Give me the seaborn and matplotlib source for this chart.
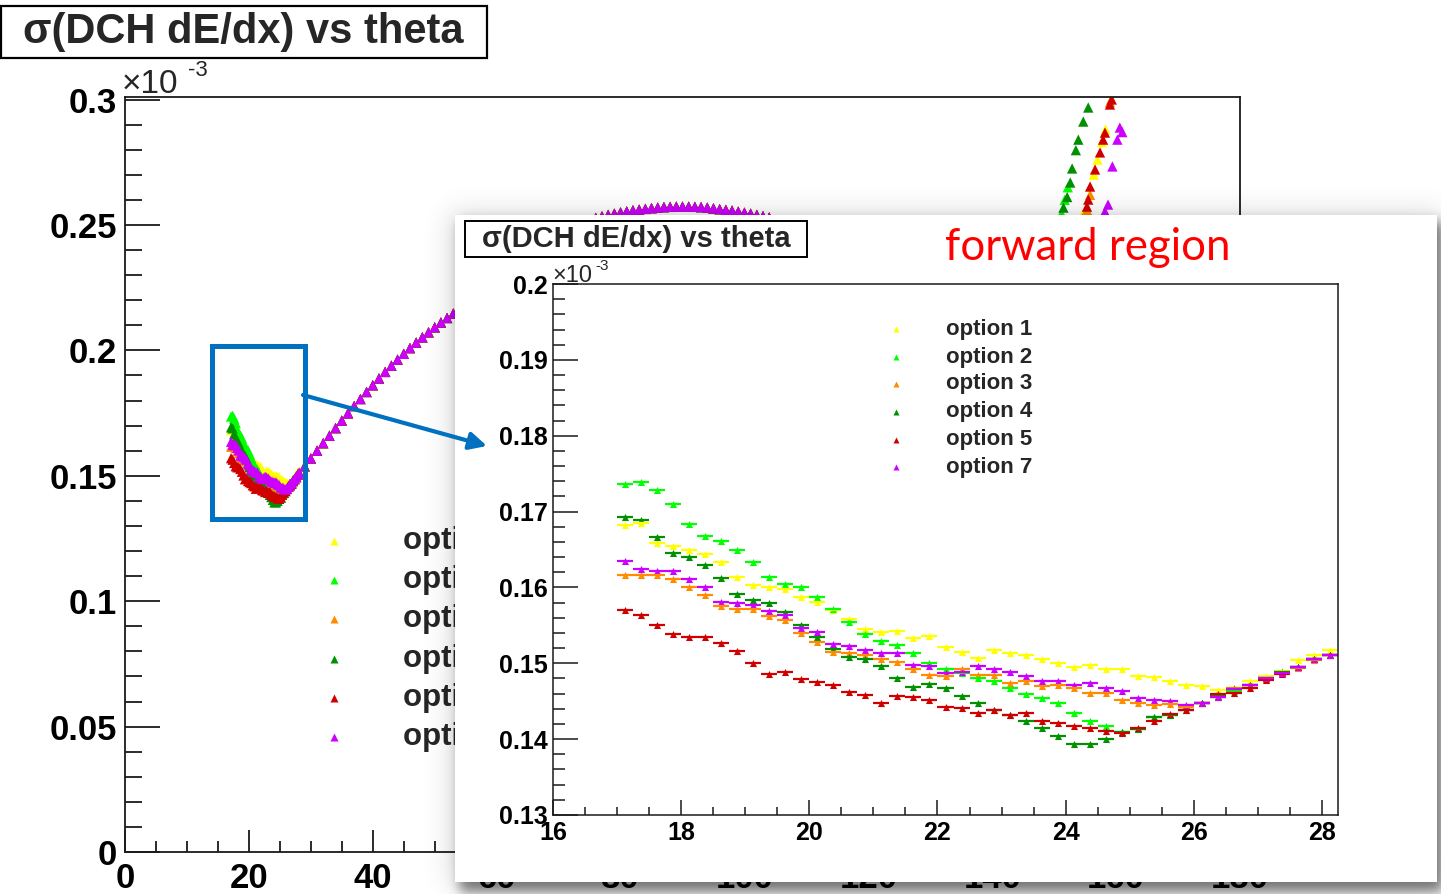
import math
import numpy as np
import pandas as pd
import matplotlib
matplotlib.use("Agg")
import matplotlib.pyplot as plt
import seaborn as sns
from matplotlib.patches import Rectangle, FancyArrowPatch
from matplotlib.ticker import MultipleLocator, FuncFormatter
from matplotlib.transforms import Bbox, TransformedBbox

# ---------------------------------------------------------------- data
options = ["option 1", "option 2", "option 3", "option 4", "option 5", "option 7"]
colors = ["#ffff00", "#00ff00", "#ff8c00", "#009000", "#d00000", "#cc00ff"]

# forward region, bin centres (deg), 0.25 deg wide bins
theta_fwd = [17.125, 17.375, 17.625, 17.875, 18.125, 18.375, 18.625, 18.875, 19.125,
             19.375, 19.625, 19.875, 20.125, 20.375, 20.625, 20.875, 21.125, 21.375,
             21.625, 21.875, 22.125, 22.375, 22.625, 22.875, 23.125, 23.375, 23.625,
             23.875, 24.125, 24.375, 24.625, 24.875, 25.125, 25.375, 25.625, 25.875,
             26.125, 26.375, 26.625, 26.875, 27.125, 27.375, 27.625, 27.875, 28.125]

sig_opt1 = [0.1682, 0.1685, 0.1659, 0.1654, 0.1650, 0.1644, 0.1633, 0.1614, 0.1603,
            0.1601, 0.1598, 0.1588, 0.1581, 0.1570, 0.1559, 0.1545, 0.1541, 0.1543,
            0.1533, 0.1536, 0.1521, 0.1515, 0.1507, 0.1517, 0.1513, 0.1511, 0.1506,
            0.1500, 0.1495, 0.1498, 0.1493, 0.1493, 0.1483, 0.1482, 0.1476, 0.1472,
            0.1470, 0.1465, 0.1467, 0.1476, 0.1483, 0.1490, 0.1504, 0.1511, 0.1517]
sig_opt2 = [0.1736, 0.1739, 0.1728, 0.1710, 0.1684, 0.1668, 0.1661, 0.1650, 0.1633,
            0.1614, 0.1605, 0.1601, 0.1587, 0.1571, 0.1554, 0.1538, 0.1530, 0.1524,
            0.1513, 0.1500, 0.1492, 0.1487, 0.1481, 0.1476, 0.1468, 0.1459, 0.1454,
            0.1448, 0.1435, 0.1424, 0.1417, 0.1410, 0.1413, 0.1429, 0.1432, 0.1442,
            0.1448, 0.1456, 0.1464, 0.1471, 0.1481, 0.1488, 0.1495, 0.1505, 0.1511]
sig_opt3 = [0.1616, 0.1616, 0.1616, 0.1611, 0.1600, 0.1590, 0.1575, 0.1571, 0.1571,
            0.1562, 0.1557, 0.1540, 0.1528, 0.1515, 0.1514, 0.1511, 0.1505, 0.1502,
            0.1492, 0.1485, 0.1483, 0.1492, 0.1485, 0.1485, 0.1474, 0.1476, 0.1470,
            0.1472, 0.1467, 0.1461, 0.1461, 0.1452, 0.1448, 0.1445, 0.1446, 0.1443,
            0.1447, 0.1456, 0.1468, 0.1471, 0.1479, 0.1488, 0.1494, 0.1504, 0.1511]
sig_opt4 = [0.1693, 0.1689, 0.1666, 0.1646, 0.1640, 0.1629, 0.1613, 0.1591, 0.1584,
            0.1579, 0.1568, 0.1551, 0.1535, 0.1519, 0.1508, 0.1505, 0.1497, 0.1480,
            0.1469, 0.1473, 0.1467, 0.1457, 0.1448, 0.1439, 0.1432, 0.1424, 0.1415,
            0.1404, 0.1394, 0.1394, 0.1400, 0.1410, 0.1413, 0.1429, 0.1432, 0.1439,
            0.1448, 0.1457, 0.1466, 0.1471, 0.1481, 0.1488, 0.1495, 0.1505, 0.1511]
sig_opt5 = [0.1570, 0.1564, 0.1551, 0.1538, 0.1534, 0.1534, 0.1527, 0.1516, 0.1501,
            0.1486, 0.1488, 0.1479, 0.1475, 0.1471, 0.1462, 0.1458, 0.1448, 0.1457,
            0.1456, 0.1452, 0.1443, 0.1441, 0.1435, 0.1439, 0.1432, 0.1435, 0.1424,
            0.1421, 0.1417, 0.1415, 0.1411, 0.1408, 0.1415, 0.1424, 0.1433, 0.1439,
            0.1448, 0.1459, 0.1461, 0.1468, 0.1478, 0.1486, 0.1495, 0.1505, 0.1511]
sig_opt7 = [0.1635, 0.1624, 0.1622, 0.1622, 0.1611, 0.1601, 0.1581, 0.1579, 0.1577,
            0.1569, 0.1564, 0.1547, 0.1541, 0.1525, 0.1523, 0.1518, 0.1513, 0.1513,
            0.1498, 0.1496, 0.1487, 0.1489, 0.1496, 0.1493, 0.1489, 0.1483, 0.1476,
            0.1476, 0.1472, 0.1474, 0.1467, 0.1463, 0.1454, 0.1452, 0.1450, 0.1445,
            0.1448, 0.1456, 0.1466, 0.1471, 0.1481, 0.1487, 0.1495, 0.1505, 0.1511]
sig_fwd = [sig_opt1, sig_opt2, sig_opt3, sig_opt4, sig_opt5, sig_opt7]

# barrel region, where all options coincide
theta_mid = [29, 30, 31, 32, 33, 34, 35, 36, 37, 38, 39, 40, 41, 42, 43, 44, 45,
             46, 47, 48, 49, 50, 51, 52, 53, 54, 55]
sig_mid = [0.1538, 0.1569, 0.1600, 0.1630, 0.1660, 0.1690, 0.1720, 0.1749, 0.1778,
           0.1806, 0.1834, 0.1861, 0.1888, 0.1914, 0.1939, 0.1963, 0.1986, 0.2009,
           0.2031, 0.2052, 0.2072, 0.2092, 0.2111, 0.2129, 0.2147, 0.2164, 0.2180]
theta_top = [76, 77, 78, 79, 80, 81, 82, 83, 84, 85, 86, 87, 88, 89, 90, 91, 92,
             93, 94, 95, 96, 97, 98, 99, 100, 101, 102, 103, 104]
sig_top = [0.2528, 0.2534, 0.2540, 0.2545, 0.2550, 0.2554, 0.2558, 0.2561, 0.2564,
           0.2567, 0.2569, 0.2571, 0.2572, 0.2573, 0.2573, 0.2573, 0.2572, 0.2571,
           0.2569, 0.2566, 0.2563, 0.2560, 0.2557, 0.2553, 0.2549, 0.2545, 0.2540,
           0.2535, 0.2530]

# backward region (upper part)
theta_bwd = [
    [155.0, 156.4, 157.0, 157.7, 158.3],
    [151.2, 151.7, 152.2],
    [155.3, 155.8, 159.0],
    [151.5, 152.1, 152.6, 152.9, 153.5, 153.9, 154.7, 155.5],
    [155.3, 155.5, 155.8, 156.6, 157.4, 157.9, 158.2, 159.0, 159.3],
    [158.2, 158.7, 159.4, 160.2, 160.6, 161.0],
]
sig_bwd = [
    [0.2560, 0.2700, 0.2760, 0.2830, 0.2880],
    [0.2545, 0.2600, 0.2650],
    [0.2560, 0.2620, 0.2990],
    [0.2569, 0.2611, 0.2669, 0.2725, 0.2798, 0.2840, 0.2912, 0.2968],
    [0.2573, 0.2601, 0.2653, 0.2721, 0.2789, 0.2840, 0.2868, 0.2980, 0.3000],
    [0.2553, 0.2581, 0.2733, 0.2840, 0.2888, 0.2870],
]

rows = []
for i, opt in enumerate(options):
    for t, s in zip(theta_fwd, sig_fwd[i]):
        rows.append((opt, t, s, "fwd"))
    for t, s in zip(theta_mid, sig_mid):
        rows.append((opt, t, s, "mid"))
    for t, s in zip(theta_top, sig_top):
        rows.append((opt, t, s, "mid"))
    for t, s in zip(theta_bwd[i], sig_bwd[i]):
        rows.append((opt, t, s, "bwd"))
df = pd.DataFrame(rows, columns=["option", "theta", "sigma", "region"])
df_fwd = df[df.region == "fwd"]

# ---------------------------------------------------------------- figure
sns.set_theme(style="white")
plt.rcParams["font.family"] = ["Liberation Sans", "DejaVu Sans"]

W, H = 1441, 894
fig = plt.figure(figsize=(W / 100, H / 100), dpi=100)
fig.patch.set_facecolor("white")


def box(x0, y0, x1, y1):
    return [x0 / W, 1 - y1 / H, (x1 - x0) / W, (y1 - y0) / H]


def fx(px):
    return px / W


def fy(py):
    return 1 - py / H


def pt(px):
    return px * 0.72


def g_fmt(v, pos):
    return "%g" % round(v, 6)


def root_axes(a, fs, pad_x, pad_y, maj_x, min_x, maj_y, min_y, lw):
    for s in a.spines.values():
        s.set_color("#1a1a1a")
        s.set_linewidth(lw)
        s.set_visible(True)
    a.tick_params(axis="both", which="both", direction="in", top=False, right=False,
                  left=True, bottom=True, color="#1a1a1a", width=lw, labelsize=fs,
                  labelcolor="black")
    a.tick_params(axis="x", which="major", length=maj_x, pad=pad_x)
    a.tick_params(axis="x", which="minor", length=min_x)
    a.tick_params(axis="y", which="major", length=maj_y, pad=pad_y)
    a.tick_params(axis="y", which="minor", length=min_y)
    a.xaxis.set_major_formatter(FuncFormatter(g_fmt))
    a.yaxis.set_major_formatter(FuncFormatter(g_fmt))
    for lab in a.get_xticklabels() + a.get_yticklabels():
        lab.set_fontweight("bold")
    a.set_xlabel("")
    a.set_ylabel("")
    a.grid(False)


# ---------------- main (full theta range) plot
ax = fig.add_axes(box(125, 97, 1240, 852), zorder=1)
ax.set_facecolor("white")
sns.scatterplot(data=df, x="theta", y="sigma", hue="option", hue_order=options,
                palette=colors, marker="^", s=55, linewidth=0, legend=False, ax=ax)
ax.set_xlim(0, 180)
ax.set_ylim(0, 0.301)
ax.xaxis.set_major_locator(MultipleLocator(20))
ax.xaxis.set_minor_locator(MultipleLocator(5))
ax.yaxis.set_major_locator(MultipleLocator(0.05))
ax.yaxis.set_minor_locator(MultipleLocator(0.01))
root_axes(ax, 25, 7, 6, pt(22), pt(11), pt(35), pt(17), 1.3)

# main legend (its right part sits under the inset panel)
legend_clip = TransformedBbox(Bbox([[0, 0], [fx(455), 1]]), fig.transFigure)
leg_rows = [541, 580, 619, 659, 698, 737]
for opt, c, yy in zip(options, colors, leg_rows):
    ax.plot([fx(334)], [fy(yy)], marker="^", ms=6, color=c, mec="none",
            transform=fig.transFigure, clip_on=False)
    t = ax.text(fx(403), fy(yy), opt, transform=fig.transFigure, fontsize=22.5,
                fontweight="bold", va="center", ha="left")
    t.set_clip_box(legend_clip)
    t.set_clip_on(True)

ax.text(fx(122), fy(93), "×10", transform=fig.transFigure, fontsize=24,
        va="baseline", ha="left")
ax.text(fx(188), fy(76), "-3", transform=fig.transFigure, fontsize=16,
        va="baseline", ha="left")

# ---------------- panel with drop shadow
pan = fig.add_axes([0, 0, 1, 1], zorder=2)
pan.set_xlim(0, W)
pan.set_ylim(H, 0)
pan.axis("off")

erf = np.vectorize(math.erf)
xs = np.arange(W) + 0.5
ys = np.arange(H) + 0.5


def soft(t, a, b, s):
    return 0.5 * (erf((t - a) / (s * math.sqrt(2))) - erf((t - b) / (s * math.sqrt(2))))


a1 = np.outer(soft(ys, 222, 892, 6), soft(xs, 460, 1443, 6)) * 0.5
a2 = np.outer(soft(ys, 212, 886, 14), soft(xs, 450, 1442, 14)) * 0.14
alpha = 1 - (1 - a1) * (1 - a2)
shadow = np.zeros((H, W, 4))
shadow[..., 3] = alpha
pan.imshow(shadow, extent=(0, W, H, 0), interpolation="bilinear", zorder=1)
pan.add_patch(Rectangle((455, 215), 982, 667, facecolor="white", edgecolor="none",
                        zorder=2))

# inset title box and label
pan.add_patch(Rectangle((465, 221), 342, 36, facecolor="white", edgecolor="black",
                        lw=1.4, zorder=3))
pan.text(636, 239, "σ(DCH dE/dx) vs theta", fontsize=21, fontweight="bold",
         ha="center", va="center", zorder=4)
pan.text(945, 248, "forward region", fontsize=31.5, color="#ff0000",
         family=["Lato", "DejaVu Sans"], ha="left", va="center", zorder=4)
pan.text(552, 282, "×10", fontsize=17, ha="left", va="baseline", zorder=4)
pan.text(595, 270, "-3", fontsize=11, ha="left", va="baseline", zorder=4)

# ---------------- forward-region inset
axin = fig.add_axes(box(553, 284, 1338, 815), zorder=3)
axin.set_facecolor("white")
for opt, c in zip(options, colors):
    d = df_fwd[df_fwd.option == opt]
    axin.hlines(d.sigma, d.theta - 0.125, d.theta + 0.125, colors=c, lw=1.6)
    sns.scatterplot(data=d, x="theta", y="sigma", color=c, marker="^", s=26,
                    linewidth=0, legend=False, ax=axin)
axin.set_xlim(16, 28.25)
axin.set_ylim(0.13, 0.2)
axin.xaxis.set_major_locator(MultipleLocator(2))
axin.xaxis.set_minor_locator(MultipleLocator(0.5))
axin.yaxis.set_major_locator(MultipleLocator(0.01))
axin.yaxis.set_minor_locator(MultipleLocator(0.002))
root_axes(axin, 18, 4, 4, pt(15), pt(8), pt(25), pt(12), 1.1)

# ---------------- overlay: titles, legends, zoom marker
top = fig.add_axes([0, 0, 1, 1], zorder=4)
top.set_xlim(0, W)
top.set_ylim(H, 0)
top.axis("off")

top.add_patch(Rectangle((1, 6), 486, 52, facecolor="white", edgecolor="black", lw=1.6))
top.text(243, 32, "σ(DCH dE/dx) vs theta", fontsize=30, fontweight="bold",
         ha="center", va="center")

in_rows = [329, 357, 384, 412, 440, 467]
for opt, c, yy in zip(options, colors, in_rows):
    top.plot([896], [yy], marker="^", ms=4.5, color=c, mec="none")
    top.text(946, yy, opt, fontsize=16, fontweight="bold", va="center", ha="left")

blue = "#0070c0"
top.add_patch(Rectangle((212, 346), 93, 173, facecolor="none", edgecolor=blue, lw=3.6))
top.add_patch(FancyArrowPatch((303, 395), (487, 446), arrowstyle="-|>",
                              mutation_scale=26, color=blue, lw=3.0,
                              shrinkA=0, shrinkB=0))

fig.savefig("out.png", dpi=100, facecolor="white")
